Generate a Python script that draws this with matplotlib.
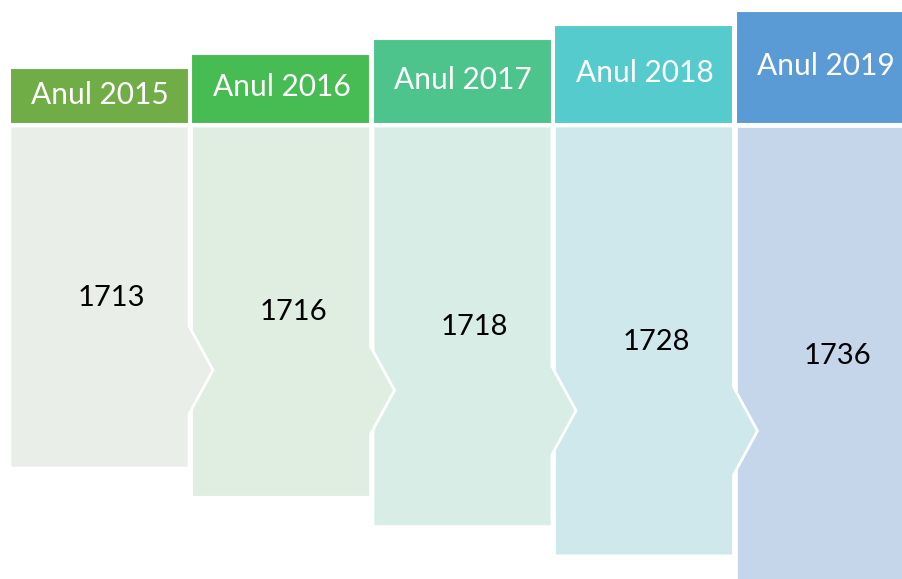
import matplotlib
matplotlib.use("Agg")
import matplotlib.pyplot as plt
from matplotlib.patches import Polygon, Rectangle

years = ["Anul 2015", "Anul 2016", "Anul 2017", "Anul 2018", "Anul 2019"]
values = [1713, 1716, 1718, 1728, 1736]

head_colors = ["#70AD47", "#47BC52", "#4DC48B", "#55CBCD", "#5B9BD5"]
body_colors = ["#E9EEE8", "#E0EEE2", "#D8EDE5", "#CFE8EB", "#C5D5EA"]

plt.rcParams['font.family'] = ['Lato', 'DejaVu Sans']


def main():
    fig = plt.figure(figsize=(9.03, 5.79), dpi=100)
    ax = fig.add_axes([0, 0, 1, 1])
    ax.set_xlim(0, 903)
    ax.set_ylim(579, 0)
    ax.axis('off')

    col_w = 181.5
    x_start = 10
    n = len(years)

    # draw from right to left so each arrow tip sits on top of the next box
    for i in reversed(range(n)):
        x0 = x_start + i * col_w
        x1 = x0 + 179
        head_top = 68 - i * 14.3
        bottom = 468 + i * 29.3
        apex = 370 + i * 20.3

        ax.add_patch(Rectangle((x0, head_top), x1 - x0, 124 - head_top,
                               facecolor=head_colors[i], edgecolor='white', lw=1.5, zorder=2))
        ax.text((x0 + x1) / 2 + 0.5, (head_top + 124) / 2 - 1.5, years[i], color='white',
                fontsize=21.5, ha='center', va='center', zorder=5)

        if i < n - 1:
            pts = [(x0, 126), (x1, 126), (x1, apex - 44), (x1 + 24, apex),
                   (x1, apex + 44), (x1, bottom), (x0, bottom)]
        else:
            pts = [(x0, 126), (x1 + 20, 126), (x1 + 20, bottom), (x0, bottom)]
        ax.add_patch(Polygon(pts, closed=True, facecolor=body_colors[i],
                             edgecolor='white', lw=2, zorder=2))
        ax.text((x0 + x1) / 2 + 12, 298 + i * 14.5, str(values[i]), color='black',
                fontsize=21, ha='center', va='center', zorder=5)

    fig.savefig('out.png', dpi=100)


if __name__ == '__main__':
    main()
